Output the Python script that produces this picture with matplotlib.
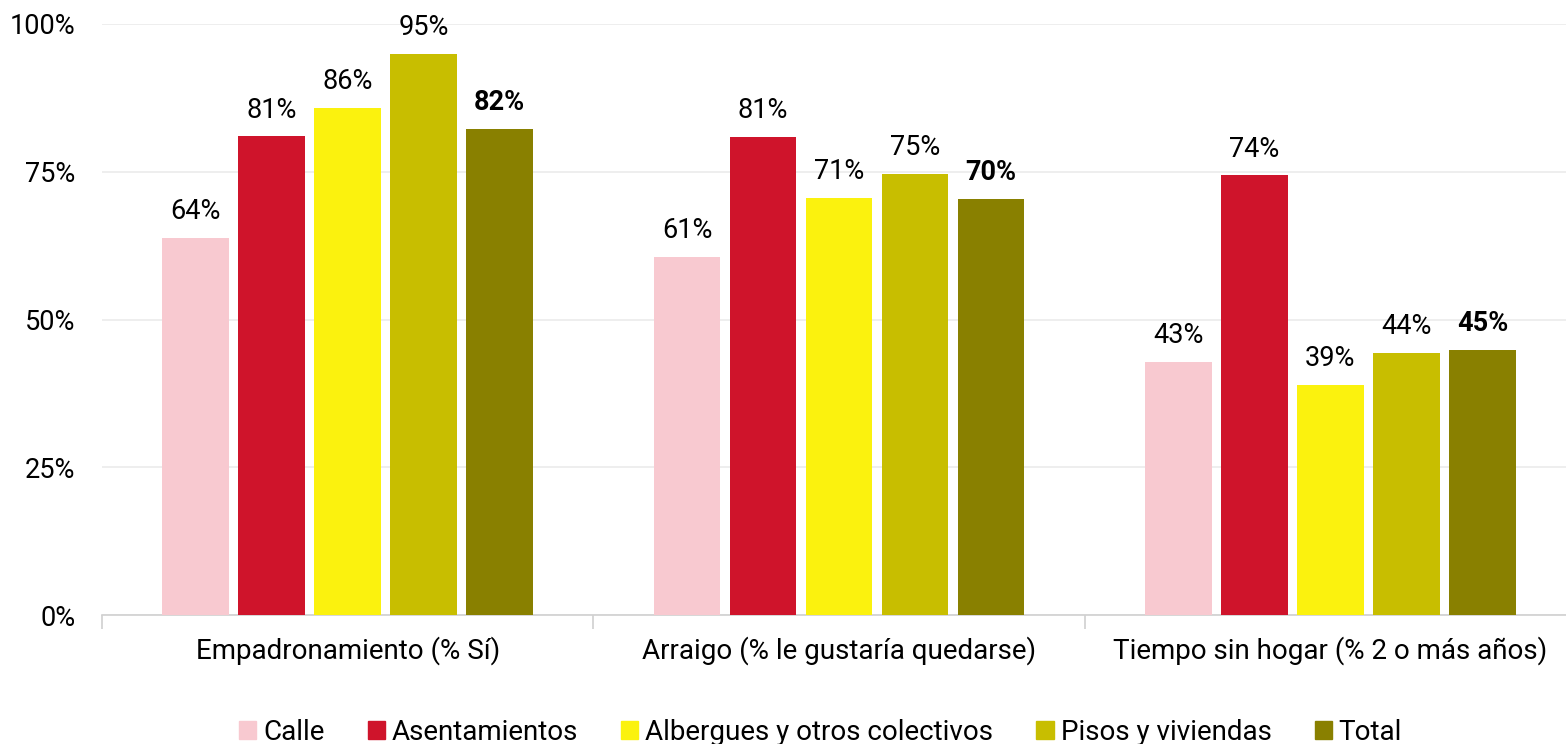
import matplotlib.pyplot as plt
import numpy as np
from matplotlib.patches import Patch

plt.rcParams['font.family'] = ['Roboto', 'DejaVu Sans']

categories = ['Empadronamiento (% Sí)', 'Arraigo (% le gustaría quedarse)',
              'Tiempo sin hogar (% 2 o más años)']
series = ['Calle', 'Asentamientos', 'Albergues y otros colectivos',
          'Pisos y viviendas', 'Total']
calle = [63.8, 60.6, 42.8]
asentamientos = [81.0, 80.9, 74.4]
albergues = [85.8, 70.6, 38.9]
pisos = [94.9, 74.6, 44.3]
total = [82.2, 70.4, 44.8]
values = [calle, asentamientos, albergues, pisos, total]
colors = ['#F8C9D0', '#CF142B', '#FBF20E', '#C8BE00', '#898000']

fs = 19.5

fig = plt.figure(figsize=(15.66, 7.44), dpi=100)
ax = fig.add_axes([102 / 1566, (744 - 615) / 744, 1474 / 1566, 591 / 744])

x = np.arange(len(categories))
pitch = 0.1547
width = 0.136
for i, (name, vals, col) in enumerate(zip(series, values, colors)):
    pos = x + (i - 2) * pitch
    bars = ax.bar(pos, vals, width, color=col, label=name, zorder=3)
    for b, v in zip(bars, vals):
        ax.annotate(f'{round(v)}%', (b.get_x() + b.get_width() / 2, v),
                    xytext=(0, 13.5), textcoords='offset points',
                    ha='center', va='baseline', fontsize=fs,
                    fontweight='bold' if name == 'Total' else 'normal')

ax.set_xlim(-0.5, 2.5)
ax.set_ylim(0, 100)
ax.set_yticks([0, 25, 50, 75, 100])
ax.set_yticklabels(['0%', '25%', '50%', '75%', '100%'], fontsize=fs)
ax.tick_params(axis='y', length=0, pad=19)
ax.grid(axis='y', color='#EBEBEB', linewidth=1.2, zorder=0)

ax.set_xticks(x)
ax.set_xticklabels(categories, fontsize=20)
ax.set_xticks([-0.5, 0.5, 1.5, 2.5], minor=True)
ax.tick_params(axis='x', which='major', length=0, pad=15)
ax.tick_params(axis='x', which='minor', length=10, color='#D0D0D0', width=1.2)

for s in ['top', 'right', 'left']:
    ax.spines[s].set_visible(False)
ax.spines['bottom'].set_color('#D0D0D0')
ax.spines['bottom'].set_linewidth(1.2)

handles = [Patch(color=c, label=s) for s, c in zip(series, colors)]
fig.legend(handles=handles, loc='center', ncol=5, frameon=False,
           fontsize=20, bbox_to_anchor=(0.524, 12 / 744), handlelength=0.62,
           handleheight=0.62, handletextpad=0.25, columnspacing=1.55,
           borderpad=0, borderaxespad=0)

fig.savefig('out.png', dpi=100)
